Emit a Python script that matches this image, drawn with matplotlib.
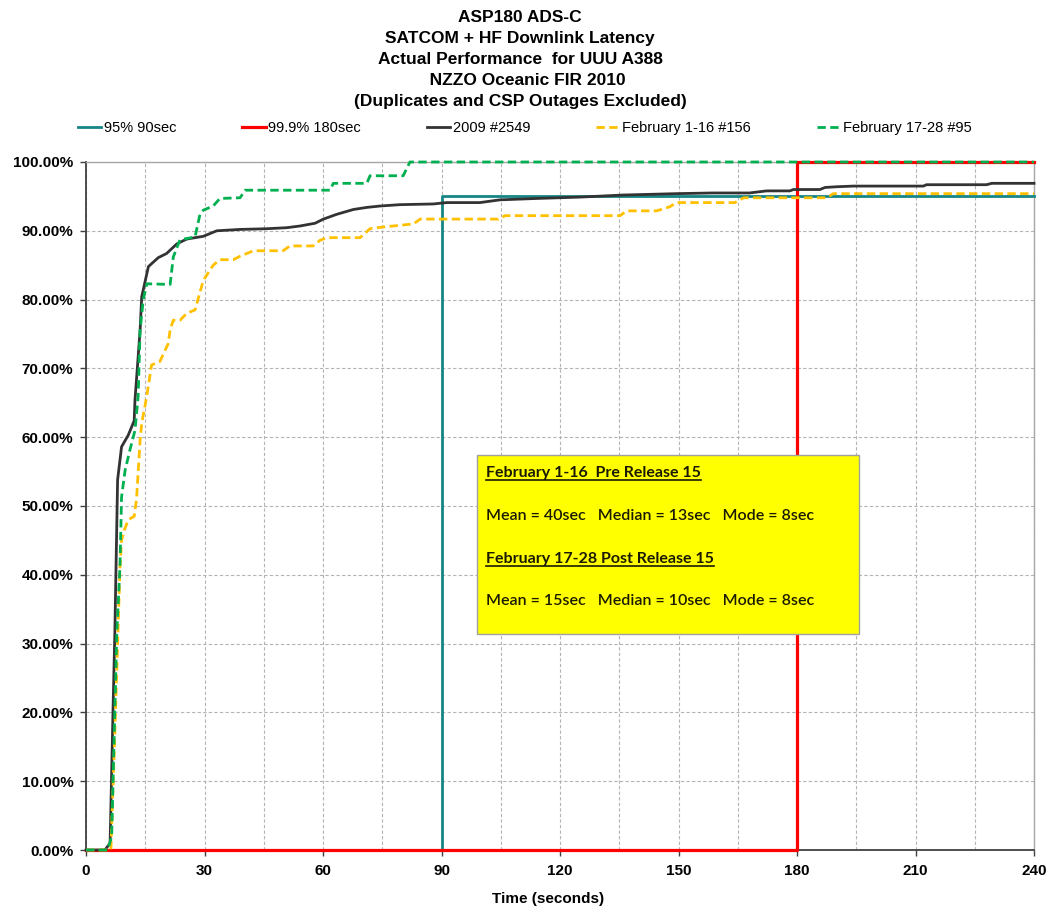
import matplotlib
matplotlib.use("Agg")
import matplotlib.pyplot as plt
from matplotlib.ticker import MultipleLocator, FuncFormatter
from matplotlib.lines import Line2D
from matplotlib.patches import Rectangle

# ---------------- data ----------------
title_lines = ["ASP180 ADS-C", "SATCOM + HF Downlink Latency",
               "Actual Performance  for UUU A388", "   NZZO Oceanic FIR 2010",
               "(Duplicates and CSP Outages Excluded)"]

req95_x = [0, 90, 90, 240]
req95_y = [0, 0, 95, 95]
req999_x = [0, 180, 180, 240]
req999_y = [0, 0, 100, 100]

y2009_x = [0, 4.8, 6.1, 6.9, 7.3, 8.0, 9.0, 10.7, 12.2, 12.4, 13.7, 14.1, 15.8, 18.3,
           20.4, 23.0, 25.5, 29.7, 33.1, 39, 45.7, 50.8, 54.2, 58, 60.1, 63.5, 67.7,
           71.1, 74.4, 79.5, 87.9, 91.3, 99.7, 104.8, 114.1, 125.1, 136, 149.5, 158.8,
           168, 172.3, 178.2, 179.1, 185.8, 187.1, 190, 194.3, 212, 212.8, 228, 229.3, 240]
y2009_y = [0, 0, 1, 21.8, 31.5, 53.8, 58.6, 60.3, 62.4, 65.4, 75.6, 80.4, 84.8, 86.1,
           86.7, 88.1, 88.8, 89.2, 90.0, 90.2, 90.3, 90.45, 90.7, 91.1, 91.7, 92.4, 93.1,
           93.4, 93.6, 93.8, 93.9, 94.1, 94.1, 94.5, 94.7, 94.9, 95.2, 95.4, 95.5,
           95.5, 95.8, 95.8, 96.0, 96.0, 96.3, 96.4, 96.5, 96.5, 96.7, 96.7, 96.9, 96.9]

feb1_x = [0, 6.3, 7.3, 8.6, 9.0, 9.7, 10.7, 12.2, 12.8, 13.7, 14.1, 15.4, 16.6, 18.7,
          20.8, 21.3, 22.1, 23.8, 25.5, 27.6, 29.7, 32.2, 33.9, 37.3, 39, 42.4, 49.9,
          51.6, 57.5, 59.2, 60.9, 69.4, 71.9, 74.4, 82.9, 84.6, 104.4, 106.1, 135.2,
          136.9, 144.5, 147.8, 149.5, 164.3, 166.5, 187.5, 189.2, 240]
feb1_y = [0, 0, 17, 41, 45, 46.5, 48, 48.5, 51, 59.6, 62, 66, 70.5, 71,
          73.6, 75.6, 77, 77, 78, 78.5, 82.8, 85, 85.8, 85.8, 86.3, 87.1, 87.1,
          87.8, 87.8, 88.6, 89, 89, 90.3, 90.5, 91, 91.7, 91.7, 92.2, 92.2,
          92.9, 92.9, 93.5, 94.1, 94.1, 94.8, 94.8, 95.4, 95.4]

feb17_x = [0, 5.5, 6.5, 7.8, 8.6, 9.0, 9.9, 11.1, 12.4, 13.2, 13.7, 14.5, 15.4, 21.3,
           22.1, 23.8, 27.6, 28.9, 29.7, 32.2, 33.9, 39.0, 40.3, 61.8, 62.6, 71.1,
           71.9, 80.3, 82.0, 240]
feb17_y = [0, 0, 2, 31.5, 41.2, 51.3, 55.2, 58.1, 61, 65.9, 75.6, 80, 82.3, 82.2,
           86.2, 88.7, 89.1, 92.5, 93, 93.6, 94.7, 94.8, 95.9, 95.9, 96.9, 96.9,
           98.0, 98.0, 100, 100]

series_labels = ["95% 90sec", "99.9% 180sec", "2009 #2549",
                 "February 1-16 #156", "February 17-28 #95"]

box_lines = ["February 1-16  Pre Release 15",
             "Mean = 40sec   Median = 13sec   Mode = 8sec",
             "February 17-28 Post Release 15",
             "Mean = 15sec   Median = 10sec   Mode = 8sec"]

# ---------------- figure ----------------
FONT = ["Liberation Sans", "DejaVu Sans"]
plt.rcParams["font.family"] = FONT

W, H = 1050, 911
fig = plt.figure(figsize=(W / 100, H / 100), dpi=100)
fig.patch.set_facecolor("white")
ax = fig.add_axes([86 / W, 1 - 850 / H, (1034 - 86) / W, (850 - 162) / H])

teal = "#158585"
red = "#ff0000"
dark = "#333333"
yellow = "#ffc000"
green = "#00b050"

lw = 2.0
ax.plot(req95_x, req95_y, color=teal, lw=lw, label=series_labels[0], zorder=3, clip_on=False)
ax.plot(req999_x, req999_y, color=red, lw=lw + 0.3, label=series_labels[1], zorder=3.1, clip_on=False)
ax.plot(y2009_x, y2009_y, color=dark, lw=lw, label=series_labels[2], zorder=4, clip_on=False)
ax.plot(feb1_x, feb1_y, color=yellow, lw=lw, ls=(0, (3, 1.6)), label=series_labels[3], zorder=5, clip_on=False)
ax.plot(feb17_x, feb17_y, color=green, lw=lw, ls=(0, (3, 1.6)), label=series_labels[4], zorder=6, clip_on=False)

ax.set_xlim(0, 240)
ax.set_ylim(0, 100)
ax.xaxis.set_major_locator(MultipleLocator(30))
ax.xaxis.set_minor_locator(MultipleLocator(15))
ax.yaxis.set_major_locator(MultipleLocator(10))
ax.yaxis.set_major_formatter(FuncFormatter(lambda v, p: f"{v:.2f}%"))
ax.grid(True, which="both", axis="x", color="#b4b4b4", ls=(0, (3, 2)), lw=0.8)
ax.grid(True, which="major", axis="y", color="#b4b4b4", ls=(0, (3, 2)), lw=0.8)
ax.set_axisbelow(True)

for s in ["left", "bottom"]:
    ax.spines[s].set_color("#404040")
    ax.spines[s].set_linewidth(1.3)
    ax.spines[s].set_zorder(2)
for s in ["top", "right"]:
    ax.spines[s].set_color("#a6a6a6")
    ax.spines[s].set_linewidth(1.0)
    ax.spines[s].set_zorder(2)

ax.tick_params(axis="both", which="major", direction="out", length=4, width=1,
               color="#404040", labelsize=11, labelcolor="black")
ax.tick_params(axis="x", which="minor", length=0)
ax.tick_params(axis="x", pad=6)
ax.tick_params(axis="y", pad=5)
for t in ax.get_xticklabels() + ax.get_yticklabels():
    t.set_fontweight("bold")
ax.set_xlabel("Time (seconds)", fontsize=11, fontweight="bold")
ax.xaxis.set_label_coords((548 - 86) / (1034 - 86), -(892 - 850) / (850 - 162))
ax.xaxis.label.set_va("top")

# title
fig.text(520 / W, 1 - 10 / H, "\n".join(title_lines), ha="center", va="top",
         fontsize=12.5, fontweight="bold", linespacing=1.5)

# legend
handles, labels = ax.get_legend_handles_labels()
fig.legend(handles, labels, loc="center left", bbox_to_anchor=(72 / W, 1 - 128 / H),
           ncol=5, frameon=False, fontsize=10.5, handlelength=1.6, handletextpad=0.2,
           columnspacing=4.5, borderaxespad=0)

# text box
bx0, by0, bx1, by1 = 477, 455, 859, 634
fig.patches.append(Rectangle((bx0 / W, 1 - by1 / H), (bx1 - bx0) / W, (by1 - by0) / H,
                             transform=fig.transFigure, facecolor="#ffff00",
                             edgecolor="#a0a0a0", lw=1.0, zorder=10))
BOXFONT = ["Lato", "Open Sans", "DejaVu Sans"]
baselines = [477, 520, 563, 605]
txts = []
for i, (line, yb) in enumerate(zip(box_lines, baselines)):
    t = fig.text(486 / W, 1 - yb / H, line, ha="left", va="baseline",
                 fontsize=11.5, fontweight="bold" if i % 2 == 0 else "semibold",
                 family=BOXFONT, color="#1a1a00", zorder=11)
    txts.append((i, t))

fig.canvas.draw()
r = fig.canvas.get_renderer()
for i, t in txts:
    if i % 2 == 0:
        bb = t.get_window_extent(renderer=r)
        yb = 1 - baselines[i] / H
        ypix = yb * H - 3
        fig.add_artist(Line2D([bb.x0 / W, bb.x1 / W], [ypix / H, ypix / H],
                              transform=fig.transFigure, color="#1a1a00", lw=1.2, zorder=11))

fig.savefig("out.png", dpi=100, facecolor="white")
